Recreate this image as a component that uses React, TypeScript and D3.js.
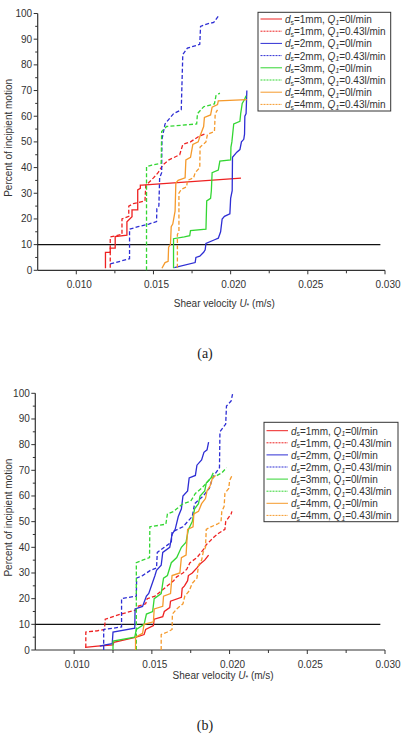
import React from "react";
import * as d3 from "d3";

type Pt = [number, number]; // [shear velocity U* (m/s), percent of incipient motion]

// ---------- Panel (a) ----------
const a_d1_q0: Pt[] = [[0.01189,0.8],[0.01189,7],[0.0122,7],[0.0122,8.6],[0.01252,8.6],[0.01252,13.1],[0.01328,13.7],[0.01328,18.9],[0.01361,20.9],[0.01361,23.5],[0.01398,23.5],[0.01398,31.3],[0.01415,31.9],[0.01415,33.2],[0.01426,33.2],[0.02067,35.9]];
const a_d1_q43: Pt[] = [[0.0122,1],[0.0122,13],[0.01296,14],[0.01296,20],[0.0134,21],[0.0134,25],[0.0137,26],[0.01445,27],[0.0145,33],[0.015,36],[0.0153,38],[0.0156,41],[0.016,43],[0.0167,45],[0.0169,49],[0.0174,50],[0.0179,52],[0.0183,53]];
const a_d2_q0: Pt[] = [[0.01635,1],[0.0177,3],[0.01775,5],[0.018,5.5],[0.01825,7],[0.01835,8],[0.0184,10.5],[0.019,12],[0.0192,12.5],[0.01935,15],[0.01945,20],[0.0196,21],[0.01995,22],[0.02,28],[0.0201,31],[0.02012,44],[0.0204,46],[0.0206,47],[0.0207,50],[0.02085,51],[0.0209,53],[0.02092,60],[0.021,61],[0.02105,70]];
const a_d2_q43: Pt[] = [[0.0122,2.5],[0.01345,4.5],[0.01345,16],[0.014,17],[0.0147,18],[0.0152,19],[0.01522,24],[0.01535,25],[0.0154,36],[0.01553,38],[0.01555,51],[0.01575,57],[0.0163,61],[0.0168,62.5],[0.0169,84],[0.0172,86.5],[0.018,88],[0.01805,95],[0.0185,96],[0.0189,96.5],[0.0192,99]];
const a_d3_q0: Pt[] = [[0.0163,0.8],[0.0163,12.3],[0.017,13],[0.01735,13.5],[0.0174,15.5],[0.0184,16],[0.01845,27],[0.0187,28],[0.01875,31],[0.0188,38],[0.0192,39],[0.0193,42.5],[0.02,43],[0.02002,48],[0.02008,50],[0.0202,57],[0.0206,58],[0.02065,61],[0.02075,65],[0.0209,66.5],[0.021,68]];
const a_d3_q43: Pt[] = [[0.01455,0],[0.01455,40.3],[0.0149,41],[0.0155,41.7],[0.01553,54],[0.01585,56],[0.0178,57],[0.01785,61],[0.01825,63.7],[0.01895,64.8],[0.01905,68],[0.0193,69]];
const a_d4_q0: Pt[] = [[0.01555,0.8],[0.01575,3],[0.01595,3.5],[0.01598,9],[0.0161,10],[0.01615,17],[0.01625,18],[0.0164,23],[0.01645,34],[0.0166,35],[0.01705,36],[0.0171,43],[0.0174,44],[0.01755,49],[0.0179,50],[0.018,52],[0.01825,56],[0.0183,59.5],[0.0187,60.5],[0.0188,63.5],[0.01915,64.5],[0.0192,66],[0.02105,66.5]];
const a_d4_q43: Pt[] = [[0.01655,1],[0.01655,14],[0.01665,15],[0.01665,30],[0.0168,31.5],[0.01715,32.5],[0.0172,35],[0.0176,36],[0.0177,38],[0.018,40],[0.01802,48],[0.0184,50],[0.0185,53],[0.01895,54],[0.019,61],[0.01915,62.5]];

// ---------- Panel (b) ----------
const b_d1_q0: Pt[] = [[0.0107,1],[0.0115,1.5],[0.0125,2],[0.01255,3],[0.014,5],[0.0145,6],[0.0146,8],[0.0151,9.5],[0.01515,12],[0.0157,13],[0.0158,15],[0.01615,16.5],[0.0162,19],[0.0169,20.5],[0.01695,24],[0.0171,25],[0.0173,27],[0.01735,29],[0.0176,30],[0.0179,32],[0.0181,33.5],[0.0184,35],[0.01865,37]];
const b_d1_q43: Pt[] = [[0.01075,1],[0.01075,7],[0.0115,7.5],[0.01195,8],[0.012,12],[0.013,14],[0.01395,15.5],[0.0141,17],[0.0146,18],[0.0147,20],[0.0152,21],[0.0156,23],[0.016,25],[0.0164,27],[0.0166,28.5],[0.017,30],[0.01725,31.5],[0.01745,34],[0.0179,36],[0.0183,39],[0.0185,41],[0.019,44],[0.0193,45.5],[0.0197,47],[0.01975,50],[0.0201,53],[0.02015,54]];
const b_d2_q0: Pt[] = [[0.01165,1.5],[0.012,2],[0.01245,2.5],[0.0125,7],[0.0139,8.5],[0.01392,16],[0.0144,17],[0.01465,21],[0.0148,22],[0.0152,29],[0.0153,31],[0.0156,33],[0.0157,38],[0.01615,40],[0.0163,45],[0.0165,47],[0.0167,52],[0.0169,55],[0.017,60],[0.0173,62],[0.0174,67],[0.0178,68],[0.0179,72],[0.0182,74],[0.01835,77],[0.01855,78],[0.01865,81]];
const b_d2_q43: Pt[] = [[0.0119,0],[0.0119,8],[0.0125,8.5],[0.01305,9],[0.01305,20],[0.0135,20.5],[0.014,21],[0.01402,28],[0.0144,29],[0.0149,31],[0.0153,32],[0.01535,38],[0.0158,40],[0.01625,42],[0.0163,46],[0.017,48],[0.0176,52],[0.01775,57],[0.0183,60],[0.0187,63],[0.01885,66],[0.019,68],[0.01935,71],[0.01938,85],[0.01975,88],[0.0198,95],[0.0201,97],[0.0202,100]];
const b_d3_q0: Pt[] = [[0.0125,0],[0.0125,3.5],[0.0139,5],[0.014,8],[0.0145,10],[0.01465,14],[0.01505,15],[0.01515,20],[0.0156,22],[0.01575,28],[0.016,29],[0.01625,34],[0.0166,36],[0.0169,40],[0.0172,42],[0.01735,47],[0.0176,50],[0.01775,55],[0.018,57],[0.0181,60],[0.0184,62],[0.0185,65],[0.0188,67],[0.01895,69]];
const b_d3_q43: Pt[] = [[0.014,0],[0.014,34],[0.0144,35],[0.01485,36],[0.01487,48],[0.0159,49],[0.016,53],[0.0164,54],[0.0166,55],[0.017,57],[0.0175,58],[0.0178,61],[0.0182,63],[0.0185,65],[0.0188,67],[0.0192,68],[0.0195,69],[0.0198,71]];
const b_d4_q0: Pt[] = [[0.01395,0],[0.01395,5],[0.0144,6.5],[0.0145,10],[0.0151,11],[0.01515,16],[0.0157,17],[0.01575,21],[0.0162,22],[0.0163,29],[0.0168,30],[0.0169,36],[0.0172,37],[0.0173,47],[0.01765,48],[0.0177,53],[0.018,54],[0.0182,57],[0.01845,59],[0.01855,62],[0.01875,64],[0.0189,67],[0.0191,68]];
const b_d4_q43: Pt[] = [[0.0156,0],[0.0156,6],[0.016,7],[0.0163,8],[0.01632,14],[0.0166,16],[0.017,18],[0.01712,21],[0.0174,23],[0.0176,26],[0.0179,28],[0.018,33],[0.0182,35],[0.0183,38],[0.01845,40],[0.0185,47],[0.0188,48],[0.0192,49],[0.01945,50],[0.0195,54],[0.01965,56],[0.0197,61],[0.01995,63],[0.02,66],[0.0202,68.5]];

// ---------- Shared series metadata ----------
const grainSizes = ["1mm", "1mm", "2mm", "2mm", "3mm", "3mm", "4mm", "4mm"];
const flowRates = ["0l/min", "0.43l/min", "0l/min", "0.43l/min", "0l/min", "0.43l/min", "0l/min", "0.43l/min"];
const seriesColors = ["#ee2222", "#ee2222", "#2e2ed4", "#2e2ed4", "#33d633", "#33d633", "#f59a2c", "#f59a2c"];
const seriesDashed = [false, true, false, true, false, true, false, true];

const xMajorTicks = [0.01, 0.015, 0.02, 0.025, 0.03];
const xMinorTicks = [0.0125, 0.0175, 0.0225, 0.0275];
const yMajorTicks = [0, 10, 20, 30, 40, 50, 60, 70, 80, 90, 100];
const yMinorTicks = [5, 15, 25, 35, 45, 55, 65, 75, 85, 95];
const xDomain: [number, number] = [0.0075, 0.03];
const yDomain: [number, number] = [0, 100];
const thresholdPercent = 10;
const thresholdEnd = 0.0297;

const SANS = "'Liberation Sans', Arial, Helvetica, sans-serif";
const SERIF = "'Liberation Serif', 'Times New Roman', serif";
const INK = "#333";

type PanelProps = {
  series: Pt[][];
  xRange: [number, number];
  yRange: [number, number];
  legendX: number;
  legendY: number;
  legendW: number;
  legendH: number;
  legendRow0: number;
  legendStep: number;
  tickLabelY: number;
  titleY: number;
  caption: string;
  captionY: number;
};

function LegendLabel({ x, y, i }: { x: number; y: number; i: number }) {
  return (
    <text x={x} y={y} fontSize={10} fill={INK} fontFamily={SANS} dominantBaseline="central">
      <tspan fontStyle="italic">d</tspan><tspan fontSize={6.8} dy={2.5}>s</tspan><tspan dy={-2.5}>={grainSizes[i]}, </tspan><tspan fontStyle="italic">Q</tspan><tspan fontStyle="italic" fontSize={6.8} dy={2.5}>1</tspan><tspan dy={-2.5}>={flowRates[i]}</tspan>
    </text>
  );
}

function Panel(p: PanelProps) {
  const x = d3.scaleLinear().domain(xDomain).range(p.xRange);
  const y = d3.scaleLinear().domain(yDomain).range(p.yRange);
  const line = d3.line<Pt>().x((d) => x(d[0])).y((d) => y(d[1]));
  const x0 = p.xRange[0];
  const y0 = p.yRange[0];
  const titleX = (x(xDomain[0]) + x(xDomain[1])) / 2 + 13;
  const yMid = (p.yRange[0] + p.yRange[1]) / 2 - 4;

  return (
    <g>
      {/* axes */}
      <line x1={x0} x2={p.xRange[1]} y1={y0} y2={y0} stroke={INK} strokeWidth={1.2} />
      <line x1={x0} x2={x0} y1={y0} y2={p.yRange[1]} stroke={INK} strokeWidth={1.2} />
      {xMajorTicks.map((t) => (
        <g key={"xm" + t}>
          <line x1={x(t)} x2={x(t)} y1={y0} y2={y0 + 4} stroke={INK} strokeWidth={1} />
          <text x={x(t) + 3} y={p.tickLabelY} fontSize={10} fill={INK} fontFamily={SANS} textAnchor="middle" dominantBaseline="central">
            {d3.format(".3f")(t)}
          </text>
        </g>
      ))}
      {xMinorTicks.map((t) => (
        <line key={"xn" + t} x1={x(t)} x2={x(t)} y1={y0} y2={y0 + 3} stroke={INK} strokeWidth={1} />
      ))}
      {yMajorTicks.map((t) => (
        <g key={"ym" + t}>
          <line x1={x0 - 4} x2={x0} y1={y(t)} y2={y(t)} stroke={INK} strokeWidth={1} />
          <text x={x0 - 5.5} y={y(t)} fontSize={10} fill={INK} fontFamily={SANS} textAnchor="end" dominantBaseline="central">
            {t}
          </text>
        </g>
      ))}
      {yMinorTicks.map((t) => (
        <line key={"yn" + t} x1={x0 - 2.5} x2={x0} y1={y(t)} y2={y(t)} stroke={INK} strokeWidth={1} />
      ))}

      {/* axis titles */}
      <text x={titleX} y={p.titleY} fontSize={10} fill={INK} fontFamily={SANS} textAnchor="middle" dominantBaseline="central">
        Shear velocity <tspan fontStyle="italic">U</tspan><tspan fontSize={7} dy={2}>*</tspan><tspan dy={-2}> (m/s)</tspan>
      </text>
      <text transform={`translate(12,${yMid}) rotate(-90)`} fontSize={10} fill={INK} fontFamily={SANS} textAnchor="middle">
        Percent of incipient motion
      </text>

      {/* 10 % threshold */}
      <line x1={x(xDomain[0])} x2={x(thresholdEnd)} y1={y(thresholdPercent)} y2={y(thresholdPercent)} stroke="#111" strokeWidth={1.2} />

      {/* cumulative curves */}
      {p.series.map((s, i) => (
        <path
          key={"s" + i}
          d={line(s) || ""}
          fill="none"
          stroke={seriesColors[i]}
          strokeWidth={1.3}
          strokeDasharray={seriesDashed[i] ? "4,2.2" : undefined}
        />
      ))}

      {/* legend */}
      <rect x={p.legendX} y={p.legendY} width={p.legendW} height={p.legendH} fill="#fff" stroke={INK} strokeWidth={1} />
      {p.series.map((_, i) => {
        const ry = p.legendRow0 + i * p.legendStep;
        return (
          <g key={"lg" + i}>
            <line
              x1={p.legendX + 2.5}
              x2={p.legendX + 24}
              y1={ry}
              y2={ry}
              stroke={seriesColors[i]}
              strokeWidth={1}
              strokeDasharray={seriesDashed[i] ? "2,1" : undefined}
            />
            <LegendLabel x={p.legendX + 27} y={ry} i={i} />
          </g>
        );
      })}

      {/* caption */}
      <text x={205} y={p.captionY} fontSize={14} fill="#222" fontFamily={SERIF} textAnchor="middle" dominantBaseline="central">
        {p.caption}
      </text>
    </g>
  );
}

export default function App() {
  const seriesA = [a_d1_q0, a_d1_q43, a_d2_q0, a_d2_q43, a_d3_q0, a_d3_q43, a_d4_q0, a_d4_q43];
  const seriesB = [b_d1_q0, b_d1_q43, b_d2_q0, b_d2_q43, b_d3_q0, b_d3_q43, b_d4_q0, b_d4_q43];
  return (
    <svg
      width={403}
      height={744}
      viewBox="0 0 403 744"
      style={{ position: "absolute", left: 0, top: 0, background: "#fff" }}
    >
      <rect x={0} y={0} width={403} height={744} fill="#fff" />
      <Panel
        series={seriesA}
        xRange={[37.7, 385]}
        yRange={[270.3, 13.5]}
        legendX={258}
        legendY={12.3}
        legendW={132.7}
        legendH={98.7}
        legendRow0={19}
        legendStep={12.2}
        tickLabelY={284.3}
        titleY={303.3}
        caption="(a)"
        captionY={353}
      />
      <Panel
        series={seriesB}
        xRange={[35.3, 385]}
        yRange={[650, 393.3]}
        legendX={264}
        legendY={422.3}
        legendW={134}
        legendH={99.4}
        legendRow0={430.7}
        legendStep={12.1}
        tickLabelY={664.3}
        titleY={675}
        caption="(b)"
        captionY={725}
      />
    </svg>
  );
}
